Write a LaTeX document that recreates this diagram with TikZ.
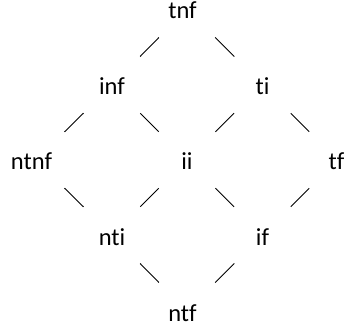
\documentclass[tikz,border=0pt]{standalone}
\usepackage{fontspec}
\setmainfont{Carlito}[Ligatures=NoCommon]
\begin{document}
\begin{tikzpicture}[x=1pt,y=-1pt,
  lbl/.style={inner sep=0pt,text height=20pt,text depth=0pt,anchor=center,
    font=\fontsize{24.5}{29}\selectfont},
  edge/.style={line width=0.9pt,shorten <=40pt,shorten >=40pt}]
\useasboundingbox (0,0) rectangle (345,331);
\node[lbl] (tnf)  at (187,9)   {\hspace*{-9pt}tnf};
\node[lbl] (inf)  at (112,85)  {inf};
\node[lbl] (ti)   at (262.5,85) {ti};
\node[lbl] (ntnf) at (36,160)  {\hspace*{-9pt}ntnf};
\node[lbl] (ii)   at (187,160) {ii};
\node[lbl] (tf)   at (337.5,160) {\hspace*{-2pt}tf};
\node[lbl] (nti)  at (112,235) {nti};
\node[lbl] (if)   at (262.5,235) {if};
\node[lbl] (ntf)  at (187,311) {\hspace*{-9pt}ntf};
\draw[edge] (tnf.center) -- (inf.center);
\draw[edge] (tnf.center) -- (ti.center);
\draw[edge] (inf.center) -- (ntnf.center);
\draw[edge] (inf.center) -- (ii.center);
\draw[edge] (ti.center) -- (ii.center);
\draw[edge] (ti.center) -- (tf.center);
\draw[edge] (ntnf.center) -- (nti.center);
\draw[edge] (ii.center) -- (nti.center);
\draw[edge] (ii.center) -- (if.center);
\draw[edge] (tf.center) -- (if.center);
\draw[edge] (nti.center) -- (ntf.center);
\draw[edge] (if.center) -- (ntf.center);
\end{tikzpicture}
\end{document}
